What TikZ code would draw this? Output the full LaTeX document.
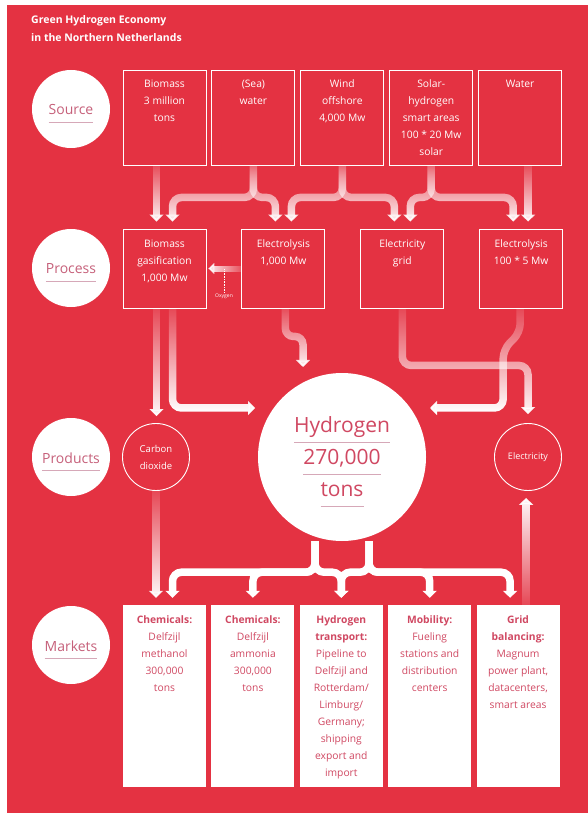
\documentclass[tikz,border=0pt]{standalone}
\usepackage{fontspec}
\setmainfont{Open Sans}
\usetikzlibrary{%
    arrows.meta,
    backgrounds,
    fadings,
    positioning
}
\definecolor{bgred}{RGB}{228,50,66}
\definecolor{inkred}{RGB}{208,72,98}
\definecolor{tagink}{RGB}{198,96,122}
\definecolor{ulcolor}{RGB}{214,168,184}

\newsavebox\ulbox
\newcommand\ulined[2]{\leavevmode\sbox\ulbox{#2}\vtop{\copy\ulbox\nointerlineskip\kern\dimexpr#1-\dp\ulbox\relax
    \hbox{\color{ulcolor}\vrule width\wd\ulbox height 1.3pt depth 0pt}}}
\newcommand\boxlines[2]{\parbox[c][#1][t]{83pt}{\centering\rule{0pt}{18pt}#2}}
\newcommand\tagtext[1]{\raisebox{-5pt}[\height][\depth]{\ulined{7pt}{#1}}}

\tikzfading[name=fadetop, top color=transparent!92, middle color=transparent!0, bottom color=transparent!0]
\tikzfading[name=fadebottom, top color=transparent!0, middle color=transparent!0, bottom color=transparent!92]
\tikzfading[name=faderight, left color=transparent!0, right color=transparent!92]

\tikzset{headarrow/.style = {-{Triangle[width=14pt,length=7pt]}}}
\tikzset{flow/.style = {white, line width=7.5pt, rounded corners=9pt, headarrow}}
\tikzset{fadeflow/.style = {flow, path fading=fadetop}}
\tikzset{title/.style = {anchor=north west, inner sep=0pt, align=left, text=white,
    font=\fontsize{10.5}{18}\selectfont\bfseries}}
\tikzset{tag/.style = {circle, fill=white, minimum size=78pt, inner sep=0pt, text=tagink,
    font=\fontsize{14}{16}\selectfont}}
\tikzset{srcbox/.style = {draw=white, line width=0.9pt, inner sep=0pt, text=white,
    font=\fontsize{10.3}{17}\selectfont}}
\tikzset{mktbox/.style = {fill=white, inner sep=0pt, text=inkred,
    font=\fontsize{10.3}{17}\selectfont}}
\tikzset{ring/.style = {circle, draw=white, line width=0.9pt, minimum size=67pt, inner sep=0pt,
    align=center, text=white, font=\fontsize{9.5}{17}\selectfont}}
\tikzset{bigdisc/.style = {circle, fill=white, minimum size=168pt, inner sep=0pt,
    text=inkred, font=\fontsize{21}{32}\selectfont}}

\begin{document}
\begin{tikzpicture}[x=1pt, y=-1pt]
    \useasboundingbox (0,0) rectangle (588,813);

    \node[title] (title) at (31,15) {Green Hydrogen Economy\\in the Northern Netherlands};

    % row labels
    \node[tag] (tsource) at (71,109) {\tagtext{Source}};
    \node[tag] (tprocess) at (71,268) {\tagtext{Process}};
    \node[tag] (tproducts) at (71,457) {\tagtext{Products}};
    \node[tag] (tmarkets) at (71,645) {\tagtext{Markets}};

    % sources
    \node[srcbox] (src1) at (164.5,117.5) {\boxlines{95pt}{Biomass\\3 million\\tons}};
    \node[srcbox] (src2) [right=5pt of src1] {\boxlines{95pt}{(Sea)\\water}};
    \node[srcbox] (src3) [right=5pt of src2] {\boxlines{95pt}{Wind\\offshore\\4,000 Mw}};
    \node[srcbox] (src4) [right=5pt of src3] {\boxlines{95pt}{Solar-\\hydrogen\\smart areas\\100 * 20 Mw\\solar}};
    \node[srcbox] (src5) [right=5pt of src4] {\boxlines{95pt}{Water}};

    % processes
    \node[srcbox] (pbio) at (164.5,268.5) {\boxlines{79pt}{Biomass\\gasification\\1,000 Mw}};
    \node[srcbox] (pely) [right=35pt of pbio] {\boxlines{79pt}{Electrolysis\\1,000 Mw}};
    \node[srcbox] (pgrid) [right=35pt of pely] {\boxlines{79pt}{Electricity\\grid}};
    \node[srcbox] (pel5) [right=35pt of pgrid] {\boxlines{79pt}{Electrolysis\\100 * 5 Mw}};
    \node[text=white, inner sep=1pt, font=\fontsize{5}{6}\selectfont] (oxy) at (224,296) {Oxygen};

    % products
    \node[ring] (co2) at (156,457) {Carbon\\dioxide};
    \node[bigdisc] (h2) at (342,457) {\raisebox{-5pt}[\height][\depth]{\parbox{140pt}{\centering
        \ulined{9pt}{Hydrogen}\\\ulined{9pt}{270,000}\\\ulined{9pt}{tons}}}};
    \node[ring, font=\fontsize{9}{10}\selectfont] (el) at (528,457) {Electricity};

    % markets
    \node[mktbox] (mk1) at (164.5,696) {\boxlines{182pt}{\textbf{Chemicals:}\\Delfzijl\\methanol\\300,000\\tons}};
    \node[mktbox] (mk2) [right=5pt of mk1] {\boxlines{182pt}{\textbf{Chemicals:}\\Delfzijl\\ammonia\\300,000\\tons}};
    \node[mktbox] (mk3) [right=5pt of mk2] {\boxlines{182pt}{\textbf{Hydrogen}\\\textbf{transport:}\\Pipeline to\\Delfzijl and\\Rotterdam/\\Limburg/\\Germany;\\shipping\\export and\\import}};
    \node[mktbox] (mk4) [right=5pt of mk3] {\boxlines{182pt}{\textbf{Mobility:}\\Fueling\\stations and\\distribution\\centers}};
    \node[mktbox] (mk5) [right=5pt of mk4] {\boxlines{182pt}{\textbf{Grid}\\\textbf{balancing:}\\Magnum\\power plant,\\datacenters,\\smart areas}};

    \begin{scope}[on background layer]
        \fill[white] (0,0) rectangle (588,813);
        \fill[bgred] (7,5) rectangle (588,813);

        % source -> process
        \draw[fadeflow] ([xshift=-8pt]src1.south) -- ([xshift=-8pt,yshift=7pt]src1.south |- pbio.north);
        \draw[fadeflow] (src2.south) -- ++(0,32) -| ([xshift=8pt,yshift=7pt]pbio.north);
        \draw[fadeflow] (src2.south) -- ++(0,32) -| ([xshift=-8pt,yshift=7pt]pely.north);
        \draw[fadeflow] (src3.south) -- ++(0,32) -| ([xshift=8pt,yshift=7pt]pely.north);
        \draw[fadeflow] (src3.south) -- ++(0,32) -| ([xshift=-8pt,yshift=7pt]pgrid.north);
        \draw[fadeflow] (src4.south) -- ++(0,32) -| ([xshift=8pt,yshift=7pt]pgrid.north);
        \draw[fadeflow] (src4.south) -- ++(0,32) -| ([xshift=-8pt,yshift=7pt]pel5.north);
        \draw[fadeflow] ([xshift=8pt]src5.south) -- ([xshift=8pt,yshift=7pt]src5.south |- pel5.north);

        % oxygen back to gasification
        \draw[densely dotted, white, line width=0.6pt] (oxy.north) -- (oxy.north |- pbio.east);
        \draw[flow, line width=6pt, -{Triangle[width=11pt,length=6pt]}, path fading=faderight]
            (pely.west) -- ([xshift=2pt]pbio.east);

        % process -> products
        \draw[fadeflow] ([xshift=-8pt]pbio.south) -- ([xshift=-8pt,yshift=7pt]pbio.south |- co2.north);
        \draw[fadeflow] ([xshift=8pt]pbio.south) |- ([xshift=-87pt,yshift=49pt]h2.center);
        \draw[fadeflow, rounded corners=8pt] ([xshift=2pt]pely.south) -- ++(0,28) -| ([xshift=-39pt,yshift=90pt]h2.center);
        \draw[fadeflow] (pgrid.south) -- ++(0,57) -| ([yshift=9pt]el.north);
        \draw[fadeflow] ([xshift=-1pt]pel5.south) -- ++(0,24) -- ++(-17,17) |- ([xshift=88pt,yshift=49pt]h2.center);

        % products -> markets
        \draw[fadeflow] (co2.south) -- ([yshift=7pt]co2.south |- mk1.north);
        \draw[flow] ([xshift=-27pt]h2.south) -- ++(0,31) -| ([xshift=8pt,yshift=7pt]mk1.north);
        \draw[flow] ([xshift=-27pt]h2.south) -- ++(0,31) -| ([yshift=7pt]mk2.north);
        \draw[flow] ([xshift=-27pt]h2.south) -- ++(0,31) -| ([yshift=7pt]mk3.north);
        \draw[flow] ([xshift=27pt]h2.south) -- ++(0,31) -| ([yshift=7pt]mk3.north);
        \draw[flow] ([xshift=27pt]h2.south) -- ++(0,31) -| ([yshift=7pt]mk4.north);
        \draw[flow] ([xshift=27pt]h2.south) -- ++(0,31) -| ([xshift=-8pt,yshift=7pt]mk5.north);
        \draw[flow, path fading=fadebottom] ([xshift=8pt]mk5.north) -- ([xshift=8pt,yshift=-7pt]mk5.north |- el.south);
    \end{scope}
\end{tikzpicture}
\end{document}
